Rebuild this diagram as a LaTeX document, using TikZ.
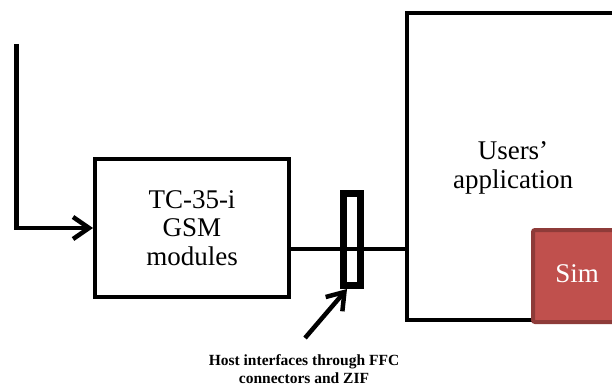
\documentclass[tikz,border=0pt]{standalone}
\usepackage{fontspec}
\setmainfont{Liberation Serif}
\usetikzlibrary{arrows.meta,calc}
\definecolor{simfill}{HTML}{C0504D}
\definecolor{simedge}{HTML}{8E3B39}
\tikzset{
  blk/.style={draw=black,line width=4pt,rectangle,inner sep=0pt},
  big/.style={font=\fontsize{27}{28.5}\selectfont,align=center},
  wire/.style={line width=3.5pt},
  arr/.style={line width=4.5pt,-{Straight Barb[length=16pt,width=22pt,line width=4.5pt]}},
}
\begin{document}
\begin{tikzpicture}[x=1pt,y=-1pt]
\clip (0,0) rectangle (612,387);
\fill[white] (0,0) rectangle (612,387);
% user application box (extends beyond the right edge)
\node[blk,minimum width=250pt,minimum height=307pt,anchor=north west] (app) at (405,11) {};
\node[big] (apptext) at (513,168) {Users’\\application};
% GSM box
\node[blk,minimum width=194pt,minimum height=137pt,big] (gsm) at (192,228) {TC-35-i\\GSM\\modules};
% SIM
\node[draw=simedge,fill=simfill,line width=4pt,rounded corners=2pt,minimum width=120pt,minimum height=92pt,anchor=north west] (sim) at (531,228) {};
\node[big,text=white] (simtext) at (577,274) {Sim};
% wire between boxes
\coordinate (j) at (300,249);
\draw[wire] (gsm.east |- j) -- (app.west |- j);
% FFC connector
\node[draw=black,line width=7pt,minimum width=17pt,minimum height=91pt,inner sep=0pt] (ffc) at (351.5,239.5) {};
% input arrow
\coordinate (in) at (16.5,44);
\draw[arr] (in) |- (gsm.west);
% pointer arrow
\coordinate (tail) at (305,338);
\coordinate (tip) at (347,289);
\draw[arr] (tail) -- (tip);
% caption
\node[font=\fontsize{15.5}{18}\selectfont\bfseries,align=center] (cap) at (304,369.5) {Host interfaces through FFC\\connectors and ZIF};
\end{tikzpicture}
\end{document}
